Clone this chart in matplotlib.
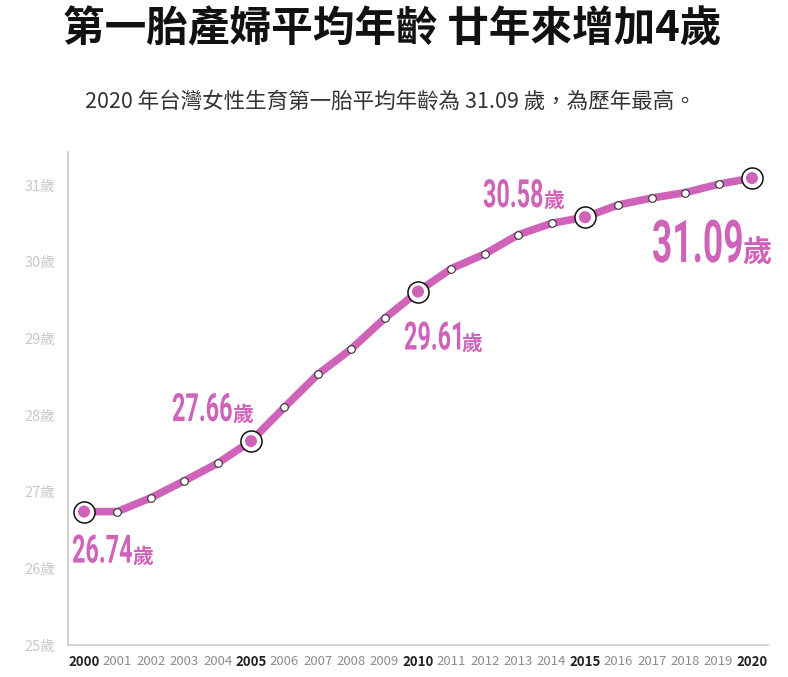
import matplotlib
matplotlib.use("Agg")
import matplotlib.pyplot as plt
from matplotlib.textpath import TextPath
from matplotlib.patches import PathPatch
from matplotlib.font_manager import FontProperties
from matplotlib.transforms import Affine2D, IdentityTransform

years = list(range(2000, 2021))
ages = [26.74, 26.74, 26.92, 27.14, 27.37, 27.66, 28.10, 28.53, 28.86, 29.26, 29.61,
        29.91, 30.10, 30.35, 30.50, 30.58, 30.74, 30.83, 30.90, 31.01, 31.09]
key_years = [2000, 2005, 2010, 2015, 2020]
y_ticks = [25, 26, 27, 28, 29, 30, 31]

title = "第一胎產婦平均年齡 廿年來增加4歲"
subtitle = "2020 年台灣女性生育第一胎平均年齡為 31.09 歲，為歷年最高。"

cjk = ["Noto Sans CJK TC", "DejaVu Sans"]
plt.rcParams["font.family"] = cjk
pink = "#cf63b9"

fig = plt.figure(figsize=(7.88, 6.77), dpi=100)
ax = fig.add_axes([68 / 788, 1 - 645 / 677, 700 / 788, 493 / 677])

ax.plot(years, ages, color=pink, lw=5.5, zorder=2, solid_capstyle="round")
ax.scatter(years, ages, s=30, facecolor="white", edgecolor="#333333", lw=0.8, zorder=3)
key_vals = [ages[years.index(y)] for y in key_years]
ax.scatter(key_years, key_vals, s=230, facecolor="white", edgecolor="#111111", lw=1.1, zorder=4)
ax.scatter(key_years, key_vals, s=75, facecolor=pink, edgecolor="none", zorder=5)

ax.set_xlim(1999.52, 2020.48)
ax.set_ylim(25, 31.43)

for s in ["top", "right"]:
    ax.spines[s].set_visible(False)
ax.spines["left"].set_color("#cccccc")
ax.spines["bottom"].set_color("#cccccc")
ax.spines["left"].set_linewidth(1.2)
ax.spines["bottom"].set_linewidth(1.2)

ax.set_yticks(y_ticks)
ax.set_yticklabels([f"{v}歲" for v in y_ticks], color="#c8c8c8", fontsize=10.5)
ax.set_yticks([31], minor=True)
ax.tick_params(axis="y", which="major", length=0, pad=9)
ax.tick_params(axis="y", which="minor", direction="in", length=12, color="#cccccc", width=1)

ax.set_xticks(years)
ax.set_xticklabels([str(y) for y in years], fontsize=9.5)
ax.tick_params(axis="x", length=0, pad=7)
for lab, y in zip(ax.get_xticklabels(), years):
    if y in key_years:
        lab.set_fontweight("bold")
        lab.set_color("#222222")
    else:
        lab.set_color("#8c8c8c")

numprop = FontProperties(family="Roboto", weight="bold")


def condensed(s, x, y, size_px, sx=0.6):
    # squeeze the digits horizontally to mimic a condensed face
    tp = TextPath((0, 0), s, size=size_px, prop=numprop)
    tr = Affine2D().scale(sx, 1).translate(x, y)
    fig.add_artist(PathPatch(tp, transform=tr, facecolor=pink, edgecolor="none", zorder=6))
    return x + tp.get_extents().x1 * sx


# (year, dx px, dy px of baseline, number em px, unit size pt)
labels = [
    (2000, -12, -51, 39, 15),
    (2005, -79, 20, 39, 15),
    (2010, -14, -58, 39, 15),
    (2015, -102, 10, 39, 15),
    (2020, -100, -84, 59, 21),
]
for yr, dx, dy, em, ufs in labels:
    v = ages[years.index(yr)]
    px, py = ax.transData.transform((yr, v))
    xe = condensed(f"{v:.2f}", px + dx, py + dy, em)
    fig.text(xe + 1, py + dy, "歲", transform=IdentityTransform(), ha="left",
             va="baseline", color=pink, fontsize=ufs, fontweight="bold", zorder=6)

fig.text(392 / 788, 1 - 30 / 677, title, ha="center", va="center",
         fontsize=30, fontweight="black", color="#111111")
fig.text(390 / 788, 1 - 101 / 677, subtitle, ha="center", va="center",
         fontsize=15.5, color="#333333")

fig.savefig("out.png", dpi=100)
